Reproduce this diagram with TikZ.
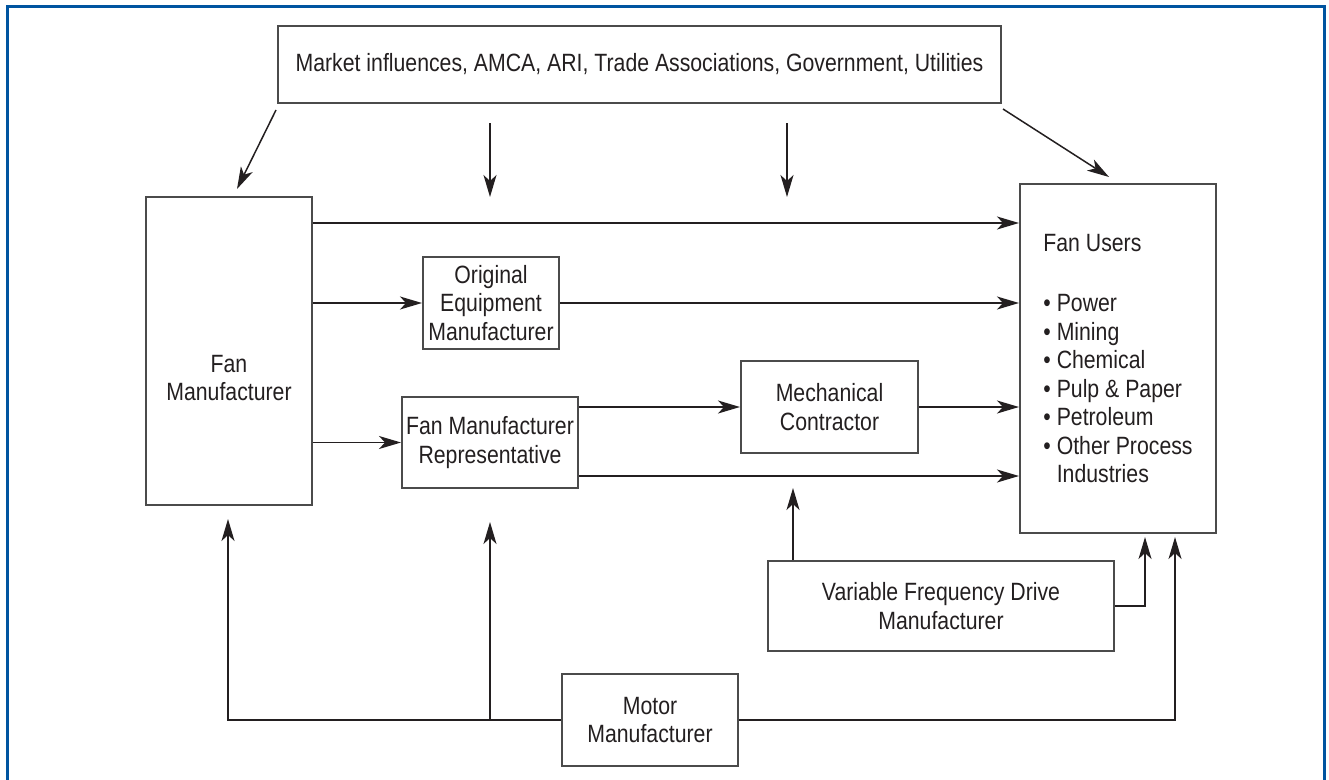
\documentclass[tikz,border=0pt]{standalone}
\usepackage{fontspec}
\setmainfont{Liberation Sans}[FakeStretch=0.85]
\usetikzlibrary{arrows.meta}
\definecolor{frameblue}{RGB}{0,84,160}
\definecolor{ink}{RGB}{35,31,32}
\definecolor{boxgray}{RGB}{75,75,75}
\begin{document}
\begin{tikzpicture}[x=1pt,y=-1pt,
  every node/.style={font=\fontsize{25}{28.5}\selectfont, text=ink},
  box/.style={draw=boxgray, line width=2pt, align=center, inner sep=0pt},
  arr/.style={-{Stealth[length=22pt,width=13pt,inset=6pt]}, line width=1.5pt, draw=ink},
  frame/.style={draw=frameblue, line width=3pt}]
\useasboundingbox (0,0) rectangle (1329,779);
\draw[frame] (7,800) -- (7,6) -- (1324,6) -- (1324,800);

\node[box, minimum width=723pt, minimum height=77pt] (top) at (639.5,64.5)
  {Market influences, AMCA, ARI, Trade Associations, Government, Utilities};
\node[box, minimum width=166pt, minimum height=308pt] (FM) at (229,351) {};
\node[align=center] (FMt) at (229,378) {Fan\\Manufacturer};
\node[box, minimum width=136pt, minimum height=92pt] (OEM) at (491,303) {Original\\Equipment\\Manufacturer};
\node[box, minimum width=176pt, minimum height=91pt] (FMR) at (490,442.5) {Fan Manufacturer\\Representative};
\node[box, minimum width=177pt, minimum height=92pt] (MC) at (829.5,407) {Mechanical\\Contractor};
\node[box, minimum width=196pt, minimum height=349pt, align=left] (FU) at (1118,358.5)
  {Fan Users\\[32pt]\textbullet\ Power\\\textbullet\ Mining\\\textbullet\ Chemical\\\textbullet\ Pulp \& Paper\\\textbullet\ Petroleum\\\textbullet\ Other Process\\\hphantom{\textbullet\ }Industries};
\node[box, minimum width=346pt, minimum height=90pt] (VFD) at (941,606) {Variable Frequency Drive\\Manufacturer};
\node[box, minimum width=176pt, minimum height=92pt] (MOT) at (650,720) {Motor\\Manufacturer};

\coordinate (ta1) at (276,110); \coordinate (ta2) at (237,189);
\coordinate (tb1) at (490,123); \coordinate (tb2) at (490,197);
\coordinate (tc1) at (787,123); \coordinate (tc2) at (787,197);
\coordinate (td1) at (1003,109); \coordinate (td2) at (1109,177);
\coordinate (yA) at (0,223);
\coordinate (yB) at (0,476);
\coordinate (vm) at (793,488);
\coordinate (fuA) at (1145,537);
\coordinate (fuB) at (1175,537);
\coordinate (fmA) at (228,519);
\coordinate (fmrA) at (490,522);

\draw[arr] (ta1) -- (ta2);
\draw[arr] (tb1) -- (tb2);
\draw[arr] (tc1) -- (tc2);
\draw[arr] (td1) -- (td2);

\draw[arr] (FM.east |- yA) -- (FU.west |- yA);
\draw[arr] (FM.east |- OEM.west) -- (OEM.west);
\draw[arr] (OEM.east) -- (OEM.east -| FU.west);
\draw[arr] (FM.east |- FMR.west) -- (FMR.west);
\draw[arr] (FMR.east |- MC.west) -- (MC.west);
\draw[arr] (MC.east) -- (MC.east -| FU.west);
\draw[arr] (FMR.east |- yB) -- (FU.west |- yB);
\draw[arr] (VFD.north -| vm) -- (vm);
\draw[arr] (VFD.east) -| (fuA);
\draw[arr] (MOT.west) -| (fmA);
\draw[arr] (MOT.west -| fmrA) -- (fmrA);
\draw[arr] (MOT.east) -| (fuB);
\end{tikzpicture}
\end{document}
